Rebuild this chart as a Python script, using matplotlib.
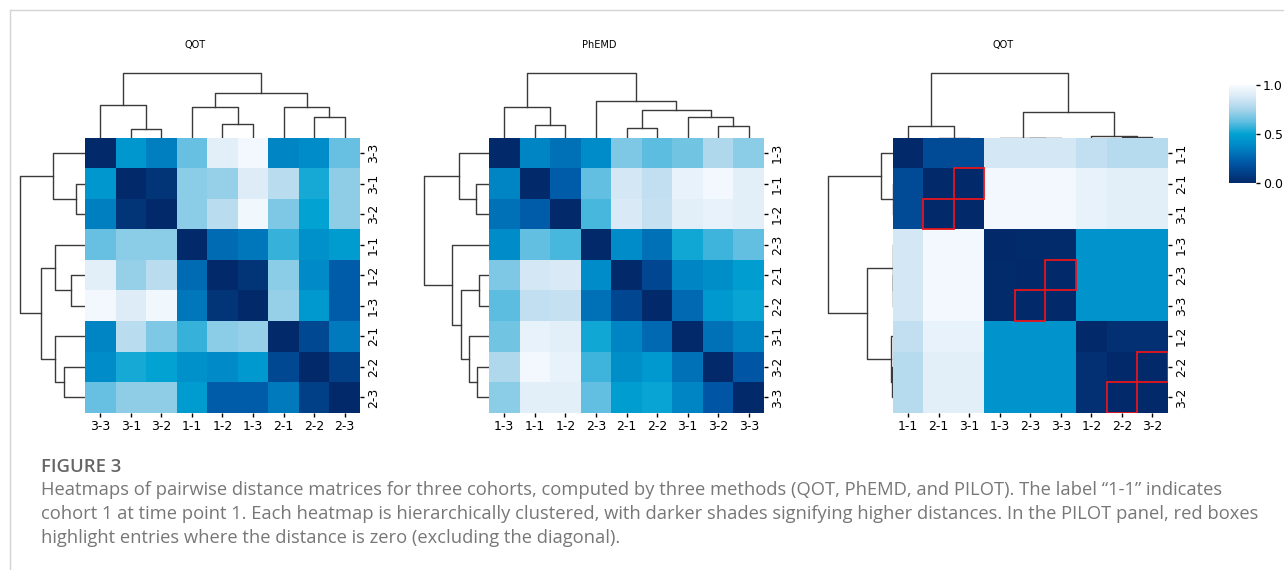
import numpy as np
import matplotlib
matplotlib.use("Agg")
import matplotlib.pyplot as plt
from matplotlib.colors import LinearSegmentedColormap
from matplotlib.patches import Rectangle
from matplotlib.lines import Line2D

W, H, DPI = 1284, 570, 100

# --- pairwise distances, rows/cols already in clustered order ---
qot_labels = ["3-3", "3-1", "3-2", "1-1", "1-2", "1-3", "2-1", "2-2", "2-3"]
qot_dist = np.array([
    [0.00, 0.45, 0.35, 0.64, 0.92, 0.98, 0.37, 0.40, 0.64],
    [0.45, 0.00, 0.05, 0.70, 0.72, 0.90, 0.80, 0.53, 0.71],
    [0.35, 0.05, 0.00, 0.70, 0.80, 0.97, 0.68, 0.50, 0.71],
    [0.64, 0.70, 0.70, 0.00, 0.28, 0.32, 0.57, 0.42, 0.47],
    [0.92, 0.72, 0.80, 0.28, 0.00, 0.05, 0.70, 0.39, 0.22],
    [0.98, 0.90, 0.97, 0.32, 0.05, 0.00, 0.72, 0.46, 0.22],
    [0.37, 0.80, 0.68, 0.57, 0.70, 0.72, 0.00, 0.14, 0.33],
    [0.40, 0.53, 0.50, 0.42, 0.39, 0.46, 0.14, 0.00, 0.10],
    [0.64, 0.71, 0.71, 0.47, 0.22, 0.22, 0.33, 0.10, 0.00],
])
# linkage trees: (height, left, right), leaves are positions in the order above
qot_tree = (65.0, (32.3, 0, (9.0, 1, 2)),
            (44.3, (30.3, 3, (13.7, 4, 5)), (30.3, 6, (20.7, 7, 8))))

phemd_labels = ["1-3", "1-1", "1-2", "2-3", "2-1", "2-2", "3-1", "3-2", "3-3"]
phemd_dist = np.array([
    [0.00, 0.37, 0.30, 0.40, 0.68, 0.62, 0.66, 0.77, 0.70],
    [0.37, 0.00, 0.22, 0.63, 0.87, 0.82, 0.94, 0.98, 0.92],
    [0.30, 0.22, 0.00, 0.59, 0.88, 0.83, 0.92, 0.94, 0.92],
    [0.40, 0.63, 0.59, 0.00, 0.40, 0.30, 0.52, 0.58, 0.63],
    [0.68, 0.87, 0.88, 0.40, 0.00, 0.13, 0.37, 0.41, 0.48],
    [0.62, 0.82, 0.83, 0.30, 0.13, 0.00, 0.27, 0.46, 0.51],
    [0.66, 0.94, 0.92, 0.52, 0.37, 0.27, 0.00, 0.30, 0.37],
    [0.77, 0.98, 0.94, 0.58, 0.41, 0.46, 0.30, 0.00, 0.20],
    [0.70, 0.92, 0.92, 0.63, 0.48, 0.51, 0.37, 0.20, 0.00],
])
phemd_tree = (65.0, (30.3, 0, (12.7, 1, 2)),
              (37.0, 3, (27.7, (10.0, 4, 5), (20.3, 6, (12.0, 7, 8)))))

pilot_labels = ["1-1", "2-1", "3-1", "1-3", "2-3", "3-3", "1-2", "2-2", "3-2"]
pilot_dist = np.array([
    [0.000, 0.15, 0.15, 0.870, 0.870, 0.870, 0.82, 0.79, 0.79],
    [0.150, 0.00, 0.00, 0.980, 0.980, 0.980, 0.94, 0.92, 0.92],
    [0.150, 0.00, 0.00, 0.980, 0.980, 0.980, 0.94, 0.92, 0.92],
    [0.870, 0.98, 0.98, 0.000, 0.004, 0.004, 0.43, 0.43, 0.43],
    [0.870, 0.98, 0.98, 0.004, 0.000, 0.000, 0.43, 0.43, 0.43],
    [0.870, 0.98, 0.98, 0.004, 0.000, 0.000, 0.43, 0.43, 0.43],
    [0.820, 0.94, 0.94, 0.430, 0.430, 0.430, 0.00, 0.03, 0.03],
    [0.790, 0.92, 0.92, 0.430, 0.430, 0.430, 0.03, 0.00, 0.00],
    [0.790, 0.92, 0.92, 0.430, 0.430, 0.430, 0.03, 0.00, 0.00],
])
pilot_tree = (65.0, (12.0, 0, (0.0, 1, 2)),
              (25.3, (0.2, 3, (0.0, 4, 5)), (1.7, 6, (0.7, 7, 8))))

panels = [
    ("QOT", qot_labels, qot_dist, qot_tree, False),
    ("PhEMD", phemd_labels, phemd_dist, phemd_tree, False),
    ("QOT", pilot_labels, pilot_dist, pilot_tree, True),
]

caption_head = "FIGURE 3"
caption_lines = [
    "Heatmaps of pairwise distance matrices for three cohorts, computed by three methods (QOT, PhEMD, and PILOT). The label \u201c1-1\u201d indicates",
    "cohort 1 at time point 1. Each heatmap is hierarchically clustered, with darker shades signifying higher distances. In the PILOT panel, red boxes",
    "highlight entries where the distance is zero (excluding the diagonal).",
]

cmap = LinearSegmentedColormap.from_list("dist", [
    (0.00, "#022a6a"), (0.20, "#0055a5"), (0.38, "#0088c6"), (0.50, "#00a2d3"),
    (0.62, "#5cbde0"), (0.75, "#a6d4ea"), (0.88, "#d8e9f5"), (1.00, "#f7fbff")])

fig = plt.figure(figsize=(W / DPI, H / DPI), dpi=DPI)


def px_axes(x0, y0, x1, y1):
    return fig.add_axes([x0 / W, 1 - y1 / H, (x1 - x0) / W, (y1 - y0) / H])


def tree_paths(node):
    # returns (centre, height, list of U-shaped paths)
    if isinstance(node, int):
        return node + 0.5, 0.0, []
    h, a, b = node
    xa, ha, pa = tree_paths(a)
    xb, hb, pb = tree_paths(b)
    path = [(xa, ha), (xa, h), (xb, h), (xb, hb)]
    return (xa + xb) / 2, h, pa + pb + [path]


heat_lefts = [85, 489, 892.7]
top, side = 137.7, 275.0
dendro_px = 67
n = 9
lc = "#3a3a3a"

for (title, labels, dist, tree, boxes), hx in zip(panels, heat_lefts):
    ax = px_axes(hx, top, hx + side, top + side)
    mesh = ax.pcolormesh(np.arange(n + 1), np.arange(n + 1), dist,
                         cmap=cmap, vmin=0, vmax=1)
    ax.set_xlim(0, n)
    ax.set_ylim(n, 0)
    for s in ax.spines.values():
        s.set_visible(False)
    ax.set_xticks(np.arange(n) + 0.5)
    ax.set_xticklabels(labels)
    ax.set_yticks(np.arange(n) + 0.5)
    ax.set_yticklabels(labels, rotation=90, va="center")
    ax.yaxis.tick_right()
    ax.tick_params(labelsize=9, length=3, width=1, pad=2)

    if boxes:
        for i in range(n):
            for j in range(n):
                if i != j and dist[i, j] == 0:
                    ax.add_patch(Rectangle((j, i), 1, 1, fill=False,
                                           edgecolor="#e8141c", lw=1.3, zorder=3))

    _, _, paths = tree_paths(tree)

    # column dendrogram on top
    axc = px_axes(hx, top - dendro_px, hx + side, top)
    for p in paths:
        xs, ys = zip(*p)
        axc.plot(xs, ys, color=lc, lw=1.0)
    axc.set_xlim(0, n)
    axc.set_ylim(0, dendro_px)
    axc.axis("off")

    # row dendrogram on the left
    axr = px_axes(hx - dendro_px, top, hx, top + side)
    for p in paths:
        ys, xs = zip(*p)
        axr.plot(xs, ys, color=lc, lw=1.0)
    axr.set_ylim(n, 0)
    axr.set_xlim(dendro_px, 0)
    axr.axis("off")

    fig.text((hx + 110) / W, 1 - 45 / H, title, ha="center", va="center",
             fontsize=7, family="DejaVu Sans")

# colorbar
cax = px_axes(1229, 85, 1256, 183)
cb = fig.colorbar(mesh, cax=cax, ticks=[0, 0.5, 1.0])
cb.outline.set_visible(False)
cb.ax.tick_params(labelsize=9, length=3, width=1, pad=2)

# frame lines
fig.add_artist(Line2D([10 / W, 10 / W], [0, 1 - 10 / H], color="#d4d4d4", lw=1))
fig.add_artist(Line2D([10 / W, 1], [1 - 10 / H, 1 - 10 / H], color="#d4d4d4", lw=1))

# caption
fig.text(41 / W, 1 - 471.5 / H, caption_head, fontsize=13.3, color="#666666",
         family="Open Sans", weight="semibold", va="baseline")
for k, line in enumerate(caption_lines):
    fig.text(41 / W, 1 - (495 + 23.8 * k) / H, line, fontsize=13.2, color="#777777",
             family="Open Sans", va="baseline")

fig.savefig("out.png", dpi=DPI)
